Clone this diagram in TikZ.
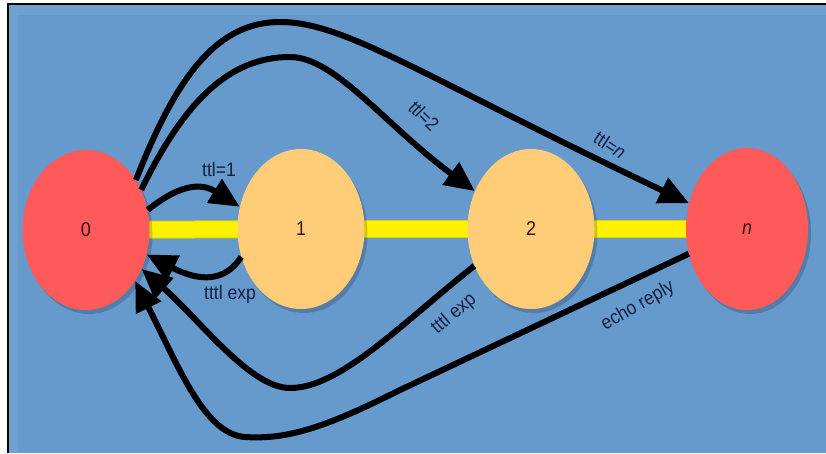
\documentclass[tikz,border=0pt]{standalone}
\usepackage{fontspec}
\setmainfont{Liberation Sans}
\newfontfamily\narrowsans[FakeStretch=0.9]{Liberation Sans}
\usetikzlibrary{shapes.geometric,arrows.meta,shadows}
\definecolor{bgblue}{RGB}{102,153,204}
\definecolor{bgband}{RGB}{112,160,206}
\definecolor{hostred}{RGB}{255,90,90}
\definecolor{hoporange}{RGB}{255,205,120}
\definecolor{labelnavy}{RGB}{20,32,64}
\definecolor{numdark}{RGB}{50,20,20}
\pgfdeclarelayer{page}
\pgfdeclarelayer{bg}
\pgfsetlayers{page,bg,main}
\tikzset{
  hop/.style={ellipse, inner sep=0pt, minimum width=127pt, minimum height=160pt,
    drop shadow={shadow xshift=3pt, shadow yshift=-4pt, opacity=0.18, fill=black},
    font=\narrowsans\fontsize{20}{22}\selectfont, text=numdark},
  endhost/.style={hop, fill=hostred},
  router/.style={hop, fill=hoporange},
  link/.style={line width=16pt, yellow},
  linkedge/.style={line width=18pt, yellow!70!olive},
  probe/.style={line width=6pt, black, -{Triangle[length=30pt,width=27pt]}},
  tag/.style={font=\narrowsans\fontsize{19.5}{22}\selectfont, text=labelnavy, inner sep=1pt}
}
\begin{document}
\begin{tikzpicture}[x=1pt,y=-1pt]
  % page frame
  \begin{pgfonlayer}{page}
    \fill[white] (0,0) rectangle (826,453);
    \fill[black] (7,3) rectangle (826,453);
    \fill[bgblue] (9,5) rectangle (826,453);
    \fill[bgband] (9,5) rectangle (826,15);
    \fill[bgband] (9,5) rectangle (18,453);
  \end{pgfonlayer}
  \useasboundingbox (0,0) rectangle (826,453);

  % hosts and routers
  \node[endhost] (h0) at (86,230) {0};
  \node[router]  (r1) at (301,229) {1};
  \node[router]  (r2) at (531,229) {2};
  \node[endhost, minimum width=122pt, minimum height=162pt] (hn) at (747,229) {\textit{n}};

  % links along the path
  \begin{pgfonlayer}{bg}
    \draw[linkedge] (h0.center) -- (r1.center);
    \draw[linkedge] (r1.center) -- (r2.center);
    \draw[linkedge] (r2.center) -- (hn.center);
    \draw[link] (h0.center) -- (r1.center);
    \draw[link] (r1.center) -- (r2.center);
    \draw[link] (r2.center) -- (hn.center);
  \end{pgfonlayer}

  % outgoing probes
  \draw[probe] (h0.18) .. controls (185,180) and (205,185) .. (r1.160);
  \draw[probe] (h0.36) .. controls (185,100) and (230,57) .. (290,57)
                       .. controls (335,57) and (385,125) .. (r2.146);
  \draw[probe] (h0.45) .. controls (175,80) and (215,22) .. (280,22)
                       .. controls (345,22) and (420,75) .. (hn.156);

  % replies back to the source
  \draw[probe] (r1.205) .. controls (225,282) and (200,282) .. (h0.-22);
  \draw[probe] (r2.213) .. controls (400,325) and (340,388) .. (290,388)
                        .. controls (250,388) and (200,320) .. (h0.-35);
  \draw[probe] (hn.203) -- (400,390) .. controls (330,425) and (290,440) .. (245,437)
                        .. controls (205,434) and (180,370) .. (h0.-46);

  % labels
  \node[tag] (l1) at (219,170) {ttl=1};
  \node[tag] (l2) at (230,294) {tttl exp};
  \node[tag, rotate=-45] (l3) at (424,116) {ttl=2};
  \node[tag, rotate=-33] (l4) at (610,145) {ttl=\textit{n}};
  \node[tag, rotate=40] (l5) at (454,314) {tttl exp};
  \node[tag, rotate=30] (l6) at (638,306) {echo reply};
\end{tikzpicture}
\end{document}
